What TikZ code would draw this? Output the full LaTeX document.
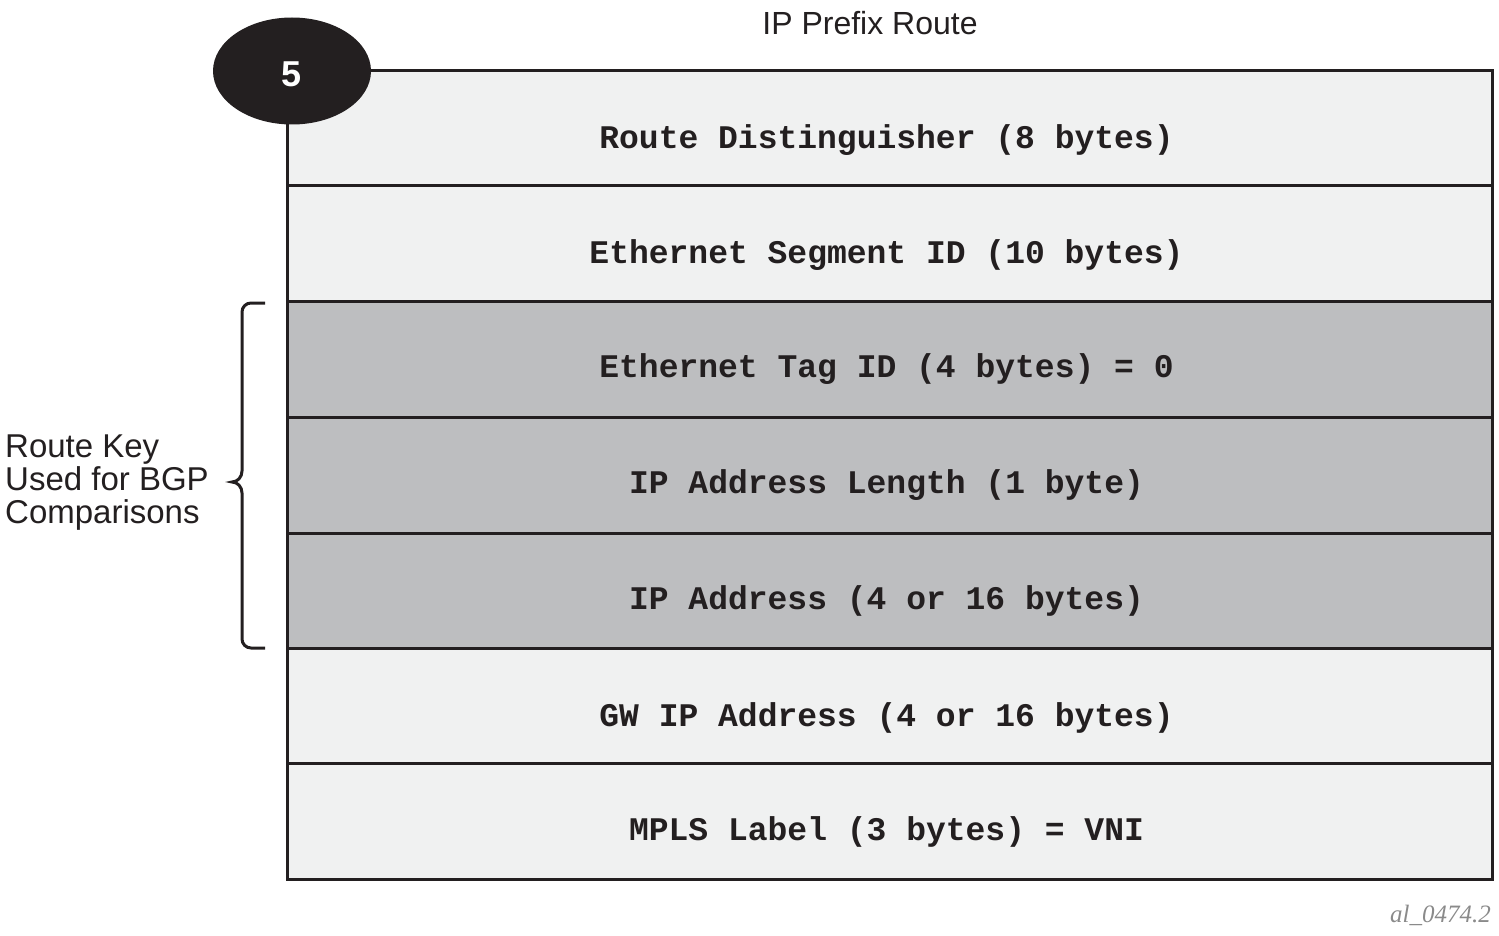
\documentclass[tikz,border=0pt]{standalone}
\usepackage{fontspec}
\usetikzlibrary{shapes.geometric}
\setmainfont{Liberation Sans}
\newfontfamily\monofam{Liberation Mono}
\newfontfamily\seriffam{Liberation Serif}
\definecolor{lightrow}{HTML}{F0F1F1}
\definecolor{greyrow}{HTML}{BDBEC0}
\definecolor{edge}{HTML}{231F20}
\definecolor{wm}{HTML}{8A8A8A}
\begin{document}
\begin{tikzpicture}[x=1pt,y=-1pt,
  rowbox/.style={draw=edge,line width=3pt,minimum width=1205pt,minimum height=116pt,inner sep=0pt,outer sep=0pt},
  rowtext/.style={font=\monofam\bfseries\fontsize{33}{36}\selectfont,text=edge,inner sep=0pt},
  sidetext/.style={font=\fontsize{33}{33}\selectfont,text=edge,align=left,inner sep=0pt}]
\useasboundingbox (0,0) rectangle (1499,936);
% rows
\node[rowbox,fill=lightrow] (r1) at (889.5,128.5) {};
\node[rowbox,fill=lightrow] (r2) at (889.5,243.5) {};
\node[rowbox,fill=greyrow]  (r3) at (889.5,359) {};
\node[rowbox,fill=greyrow]  (r4) at (889.5,475) {};
\node[rowbox,fill=greyrow]  (r5) at (889.5,591) {};
\node[rowbox,fill=lightrow] (r6) at (889.5,706) {};
\node[rowbox,fill=lightrow] (r7) at (889.5,821) {};
\node[rowtext] (t1) at ([xshift=-3pt,yshift=-12pt]r1.center) {Route Distinguisher (8 bytes)};
\node[rowtext] (t2) at ([xshift=-3pt,yshift=-12pt]r2.center) {Ethernet Segment ID (10 bytes)};
\node[rowtext] (t3) at ([xshift=-3pt,yshift=-10pt]r3.center) {Ethernet Tag ID (4 bytes) = 0};
\node[rowtext] (t4) at ([xshift=-3pt,yshift=-10pt]r4.center) {IP Address Length (1 byte)};
\node[rowtext] (t5) at ([xshift=-3pt,yshift=-10pt]r5.center) {IP Address (4 or 16 bytes)};
\node[rowtext] (t6) at ([xshift=-3pt,yshift=-12pt]r6.center) {GW IP Address (4 or 16 bytes)};
\node[rowtext] (t7) at ([xshift=-3pt,yshift=-11pt]r7.center) {MPLS Label (3 bytes) = VNI};
% badge
\node[ellipse,fill=edge,minimum width=158pt,minimum height=107pt,inner sep=0pt] (badge) at (292,71) {};
\node[text=white,font=\bfseries\fontsize{36}{38}\selectfont,inner sep=0pt] (badgenum) at ([yshift=-3pt]badge.center) {5};
% title
\node[font=\fontsize{32}{34}\selectfont,text=edge,inner sep=0pt] (title) at (870,23) {IP Prefix Route};
% brace
\coordinate (bt) at (265,303);
\coordinate (bb) at (265,648);
\draw[edge,line width=3pt] (bt) -- (251,303) to[out=180,in=90] (242,312) -- (242,471)
   to[out=-90,in=0] (232,482) to[out=0,in=90] (242,493) -- (242,639) to[out=-90,in=180] (251,648) -- (bb);
\node[sidetext,anchor=west] (key) at (5,483) {Route Key\\Used for BGP\\Comparisons};
% watermark
\node[font=\seriffam\itshape\fontsize{25}{26}\selectfont,text=wm,anchor=east,inner sep=0pt] (wmk) at (1491,915) {al\_0474.2};
\end{tikzpicture}
\end{document}
